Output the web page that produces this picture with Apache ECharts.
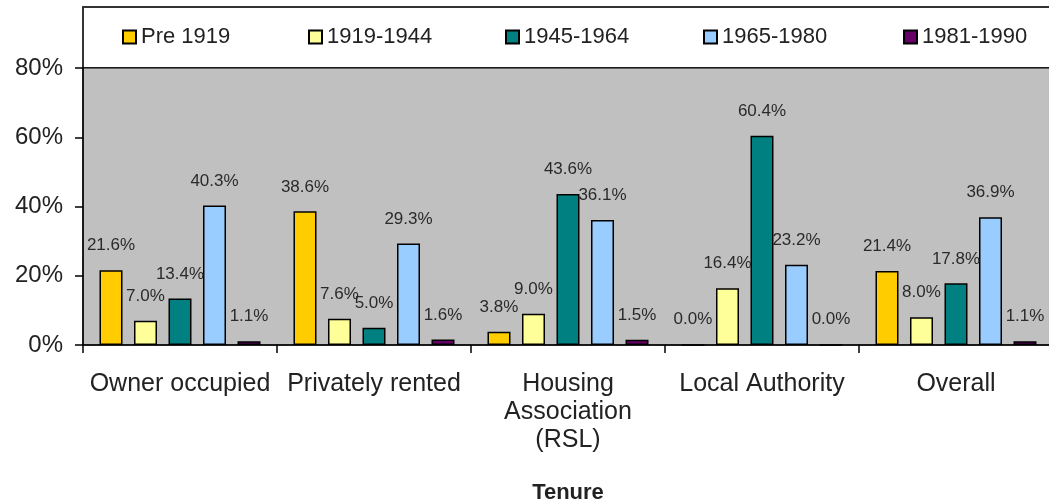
<!DOCTYPE html>
<html>
<head>
<meta charset="utf-8">
<script src="https://cdn.jsdelivr.net/npm/echarts@6/dist/echarts.min.js"></script>
<style>
  html, body { margin: 0; padding: 0; background: #fff; }
  #main { width: 1049px; height: 504px; }
</style>
</head>
<body>
<div id="main"></div>
<script>
// tenure categories
var categories = ['Owner occupied', 'Privately rented', 'Housing\nAssociation\n(RSL)', 'Local Authority', 'Overall'];
// age bands (series)
var seriesNames = ['Pre 1919', '1919-1944', '1945-1964', '1965-1980', '1981-1990'];
var pre1919 = [21.6, 38.6, 3.8, 0.0, 21.4];
var y1919_1944 = [7.0, 7.6, 9.0, 16.4, 8.0];
var y1945_1964 = [13.4, 5.0, 43.6, 60.4, 17.8];
var y1965_1980 = [40.3, 29.3, 36.1, 23.2, 36.9];
var y1981_1990 = [1.1, 1.6, 1.5, 0.0, 1.1];
var yTicks = [0, 20, 40, 60, 80];

var font = 'Arial, "Liberation Sans", sans-serif';
var colors = ['#ffcc00', '#ffff99', '#008080', '#99ccff', '#660066'];
var legendLeft = [122, 308, 505, 703, 903];

function makeSeries(i, data) {
    return {
        name: seriesNames[i],
        type: 'bar',
        data: data,
        barGap: '50%',
        barCategoryGap: '17%',
        itemStyle: {
            color: colors[i],
            borderColor: '#000',
            borderWidth: 1.5
        },
        label: {
            show: true,
            position: 'top',
            distance: 16,
            color: '#2a2a2a',
            fontFamily: font,
            fontSize: 17,
            formatter: function (p) { return p.value.toFixed(1) + '%'; }
        }
    };
}

// one legend per item so the spacing matches the original box
var legends = seriesNames.map(function (n, i) {
    return {
        data: [n],
        left: legendLeft[i],
        top: 26,
        padding: 0,
        itemWidth: 13,
        itemHeight: 13,
        icon: 'rect',
        textStyle: { fontFamily: font, fontSize: 22, color: '#222' }
    };
});

var myChart = echarts.init(document.getElementById('main'));
var options = {
    animation: false,
    textStyle: { fontFamily: font },
    graphic: [{
        type: 'rect',
        z: -1,
        shape: { x: 83, y: 7, width: 970, height: 61 },
        style: { fill: '#fff', stroke: '#333', lineWidth: 2 }
    }],
    legend: legends,
    grid: {
        left: 83,
        top: 68,
        width: 970,
        bottom: 159,
        outerBoundsMode: 'none',
        containLabel: false,
        show: true,
        backgroundColor: '#c0c0c0',
        borderColor: '#000',
        borderWidth: 1
    },
    xAxis: {
        type: 'category',
        data: categories,
        name: 'Tenure',
        nameLocation: 'middle',
        nameGap: 137,
        nameTextStyle: {
            fontFamily: font,
            fontSize: 22,
            fontWeight: 'bold',
            color: '#222',
            verticalAlign: 'top'
        },
        axisLine: { lineStyle: { color: '#000', width: 1.5 } },
        axisTick: { show: true, length: 8, interval: 0, lineStyle: { color: '#000', width: 1.5 } },
        axisLabel: {
            interval: 0,
            margin: 25,
            fontFamily: font,
            fontSize: 25,
            lineHeight: 28,
            color: '#222'
        }
    },
    yAxis: {
        type: 'value',
        min: yTicks[0],
        max: yTicks[yTicks.length - 1],
        interval: 20,
        axisLine: { show: true, lineStyle: { color: '#000', width: 1.5 } },
        axisTick: { show: true, length: 8, lineStyle: { color: '#000', width: 1.5 } },
        splitLine: { show: false },
        axisLabel: {
            formatter: '{value}%',
            margin: 20,
            fontFamily: font,
            fontSize: 24,
            color: '#222'
        }
    },
    series: [
        makeSeries(0, pre1919),
        makeSeries(1, y1919_1944),
        makeSeries(2, y1945_1964),
        makeSeries(3, y1965_1980),
        makeSeries(4, y1981_1990)
    ]
};
myChart.setOption(options);
window.addEventListener('resize', function () {
    myChart.resize();
});
</script>
</body>
</html>
